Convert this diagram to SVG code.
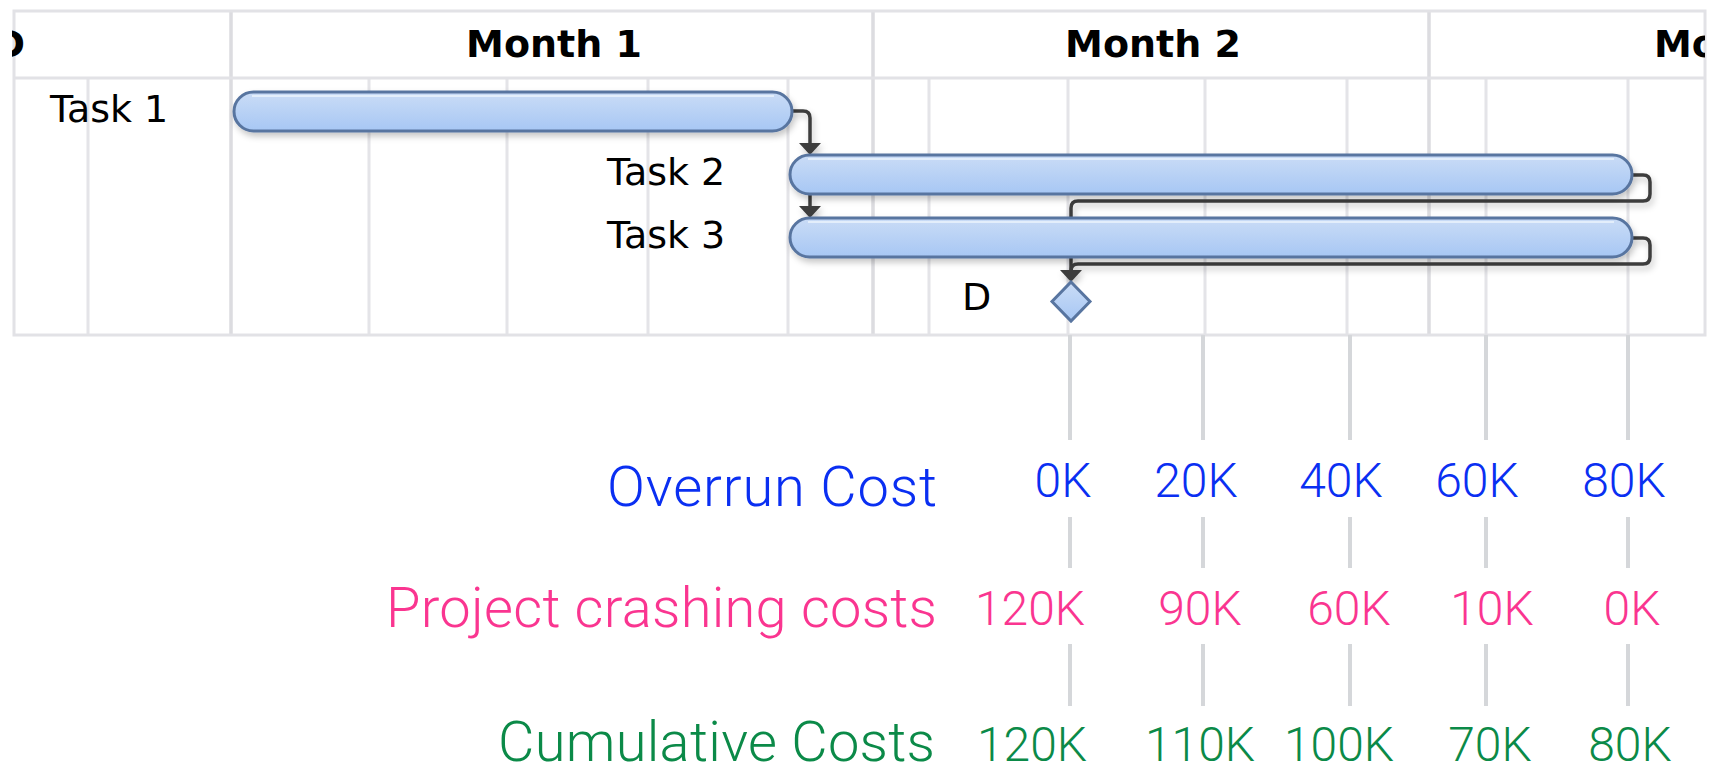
<svg xmlns="http://www.w3.org/2000/svg" width="1712" height="766" viewBox="0 0 1712 766">
<style>
.grid{stroke:#e4e4e8;stroke-width:3;fill:none}
.mgrid{stroke:#dcdce0;stroke-width:3.5;fill:none}
.frame{stroke:#e2e2e6;stroke-width:3;fill:none}
.tick{stroke:#d5d7da;stroke-width:4;fill:none}
.hdr{font-family:"DejaVu Sans",sans-serif;font-weight:bold;font-size:38px;fill:#000}
.task{font-family:"DejaVu Sans",sans-serif;font-size:38px;fill:#000}
.bar{fill:url(#barGrad);stroke:#5875a0;stroke-width:3}
.hl{fill:none;stroke:#e6effc;stroke-width:2;opacity:0.9}
.conn{fill:none;stroke:#3d3d3d;stroke-width:3.5}
.lbl{font-family:Roboto,"Liberation Sans",Arial,sans-serif;font-weight:300;font-size:56px;text-anchor:end}
.num{font-family:Roboto,"Liberation Sans",Arial,sans-serif;font-weight:300;font-size:48px;text-anchor:middle}
.blue{fill:#0a2ff2}
.pink{fill:#fa3590}
.green{fill:#0b8a48}
</style>
<defs>
<linearGradient id="barGrad" x1="0" y1="0" x2="0" y2="1">
<stop offset="0" stop-color="#cadcf6"/>
<stop offset="1" stop-color="#a7c7f4"/>
</linearGradient>
<filter id="shadow" x="-5%" y="-50%" width="110%" height="200%">
<feDropShadow dx="2" dy="4" stdDeviation="3" flood-color="#000" flood-opacity="0.22"/>
</filter>
<marker id="arr" markerUnits="userSpaceOnUse" markerWidth="12" markerHeight="22" viewBox="0 0 12 22" refX="0" refY="11" orient="auto">
<path d="M0,0 L12,11 L0,22 z" fill="#3d3d3d"/>
</marker>
<clipPath id="frameClip"><rect x="12" y="11" width="1693" height="324"/></clipPath>
</defs>
<rect width="1712" height="766" fill="#fff"/>

<g id="grid">
<path class="grid" d="M88,78V335M369,78V335M507,78V335M648,78V335M788,78V335M929,78V335M1068,78V335M1205,78V335M1347,78V335M1486,78V335M1628,78V335"/>
<path class="mgrid" d="M231,11V335M873,11V335M1429,11V335"/>
<rect class="frame" x="14" y="11" width="1691" height="324"/>
<path class="frame" d="M14,78H1705"/>
</g>

<g id="header" clip-path="url(#frameClip)">
<text class="hdr" x="25" y="57" text-anchor="end">D</text>
<text class="hdr" x="554" y="57" text-anchor="middle">Month 1</text>
<text class="hdr" x="1153" y="57" text-anchor="middle">Month 2</text>
<text class="hdr" x="1654" y="57">Month 3</text>
</g>

<g id="connectors" filter="url(#shadow)">
<path class="conn" d="M792,111H803Q810,111 810,118V143" marker-end="url(#arr)"/>
<path class="conn" d="M810,195V206" marker-end="url(#arr)"/>
<path class="conn" d="M1632,175H1643Q1650,175 1650,182V194Q1650,201 1643,201H1078Q1071,201 1071,208V270" marker-end="url(#arr)"/>
<path class="conn" d="M1632,238H1643Q1650,238 1650,245V257Q1650,264 1643,264H1078Q1071,264 1071,271"/>
</g>

<g id="task1">
<rect class="bar" x="234" y="92" width="558" height="39" rx="19.5" filter="url(#shadow)"/>
<path class="hl" d="M252,96H774"/>
<text class="task" x="50" y="122">Task 1</text>
</g>
<g id="task2">
<rect class="bar" x="790" y="155" width="842" height="39" rx="19.5" filter="url(#shadow)"/>
<path class="hl" d="M808,159H1614"/>
<text class="task" x="607" y="185">Task 2</text>
</g>
<g id="task3">
<rect class="bar" x="790" y="218" width="842" height="39" rx="19.5" filter="url(#shadow)"/>
<path class="hl" d="M808,222H1614"/>
<text class="task" x="607" y="248">Task 3</text>
</g>
<g id="milestoneD">
<path class="bar" d="M1071,282L1090,301.5L1071,321L1052,301.5Z"/>
<text class="task" x="962" y="310">D</text>
</g>

<g id="ticks">
<path class="tick" d="M1070,335V440M1203,335V440M1350,335V440M1486,335V440M1628,335V440"/>
<path class="tick" d="M1070,517V568M1203,517V568M1350,517V568M1486,517V568M1628,517V568"/>
<path class="tick" d="M1070,644V706M1203,644V706M1350,644V706M1486,644V706M1628,644V706"/>
</g>

<g id="overrun">
<text class="lbl blue" x="937" y="506" textLength="330">Overrun Cost</text>
<text class="num blue" x="1063" y="497">0K</text>
<text class="num blue" x="1196" y="497">20K</text>
<text class="num blue" x="1341" y="497">40K</text>
<text class="num blue" x="1477" y="497">60K</text>
<text class="num blue" x="1624" y="497">80K</text>
</g>
<g id="crashing">
<text class="lbl pink" x="937" y="627" textLength="551">Project crashing costs</text>
<text class="num pink" x="1030" y="625">120K</text>
<text class="num pink" x="1200" y="625">90K</text>
<text class="num pink" x="1349" y="625">60K</text>
<text class="num pink" x="1492" y="625">10K</text>
<text class="num pink" x="1632" y="625">0K</text>
</g>
<g id="cumulative">
<text class="lbl green" x="935" y="761" textLength="437">Cumulative Costs</text>
<text class="num green" x="1032" y="761">120K</text>
<text class="num green" x="1200" y="761">110K</text>
<text class="num green" x="1339" y="761">100K</text>
<text class="num green" x="1490" y="761">70K</text>
<text class="num green" x="1630" y="761">80K</text>
</g>
</svg>
